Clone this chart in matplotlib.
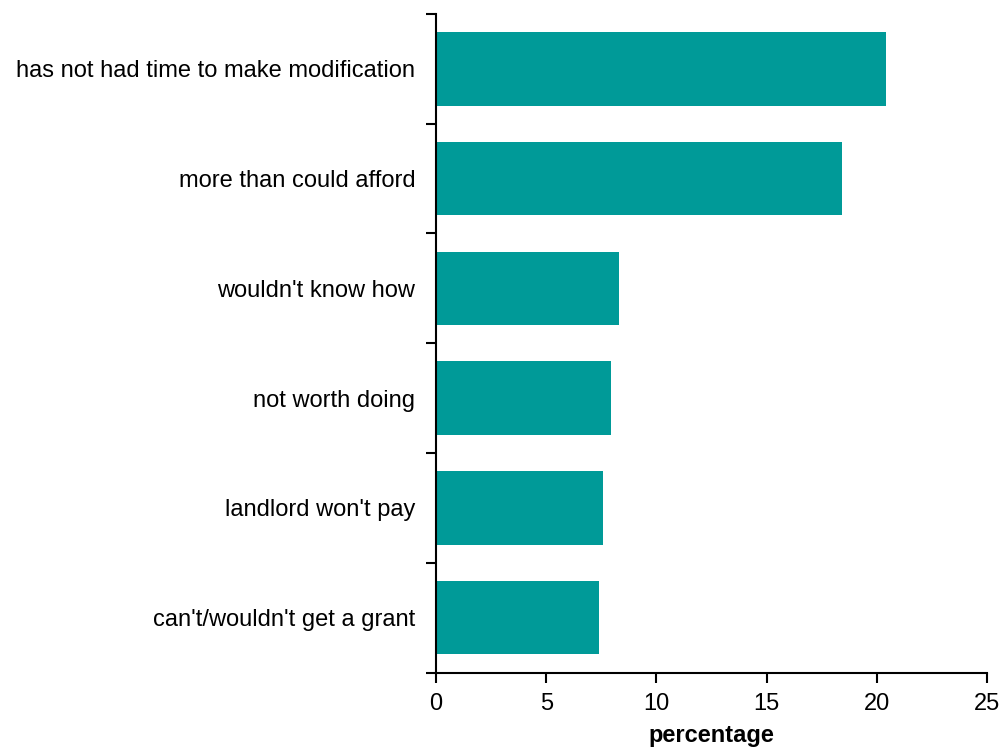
import matplotlib.pyplot as plt
import numpy as np

plt.rcParams['font.family'] = ['Liberation Sans', 'DejaVu Sans']

reasons = ["has not had time to make modification", "more than could afford",
           "wouldn't know how", "not worth doing", "landlord won't pay",
           "can't/wouldn't get a grant"]
pct = [20.4, 18.4, 8.3, 7.95, 7.6, 7.4]

fig = plt.figure(figsize=(10.03, 7.47), dpi=100)
ax = fig.add_axes([0.4347, 0.0997, 0.5493, 0.8816])

y = np.arange(len(reasons))[::-1]
ax.barh(y, pct, height=0.67, color='#009a98')

ax.set_xlim(0, 25)
ax.set_ylim(-0.5, len(reasons) - 0.5)
ax.set_xticks([0, 5, 10, 15, 20, 25])
ax.set_yticks(y)
ax.set_yticklabels(reasons)
ax.set_yticks(np.arange(-0.5, len(reasons), 1), minor=True)
ax.tick_params(axis='y', which='major', length=0, pad=15, labelsize=17)
ax.tick_params(axis='y', which='minor', length=7, width=1.5, direction='out')
ax.tick_params(axis='x', length=7, width=1.5, direction='out', labelsize=17, pad=8)
ax.set_xlabel('percentage', fontsize=17, fontweight='bold', labelpad=6)

for s in ['top', 'right']:
    ax.spines[s].set_visible(False)
for s in ['left', 'bottom']:
    ax.spines[s].set_linewidth(1.5)

fig.savefig('out.png', dpi=100)
